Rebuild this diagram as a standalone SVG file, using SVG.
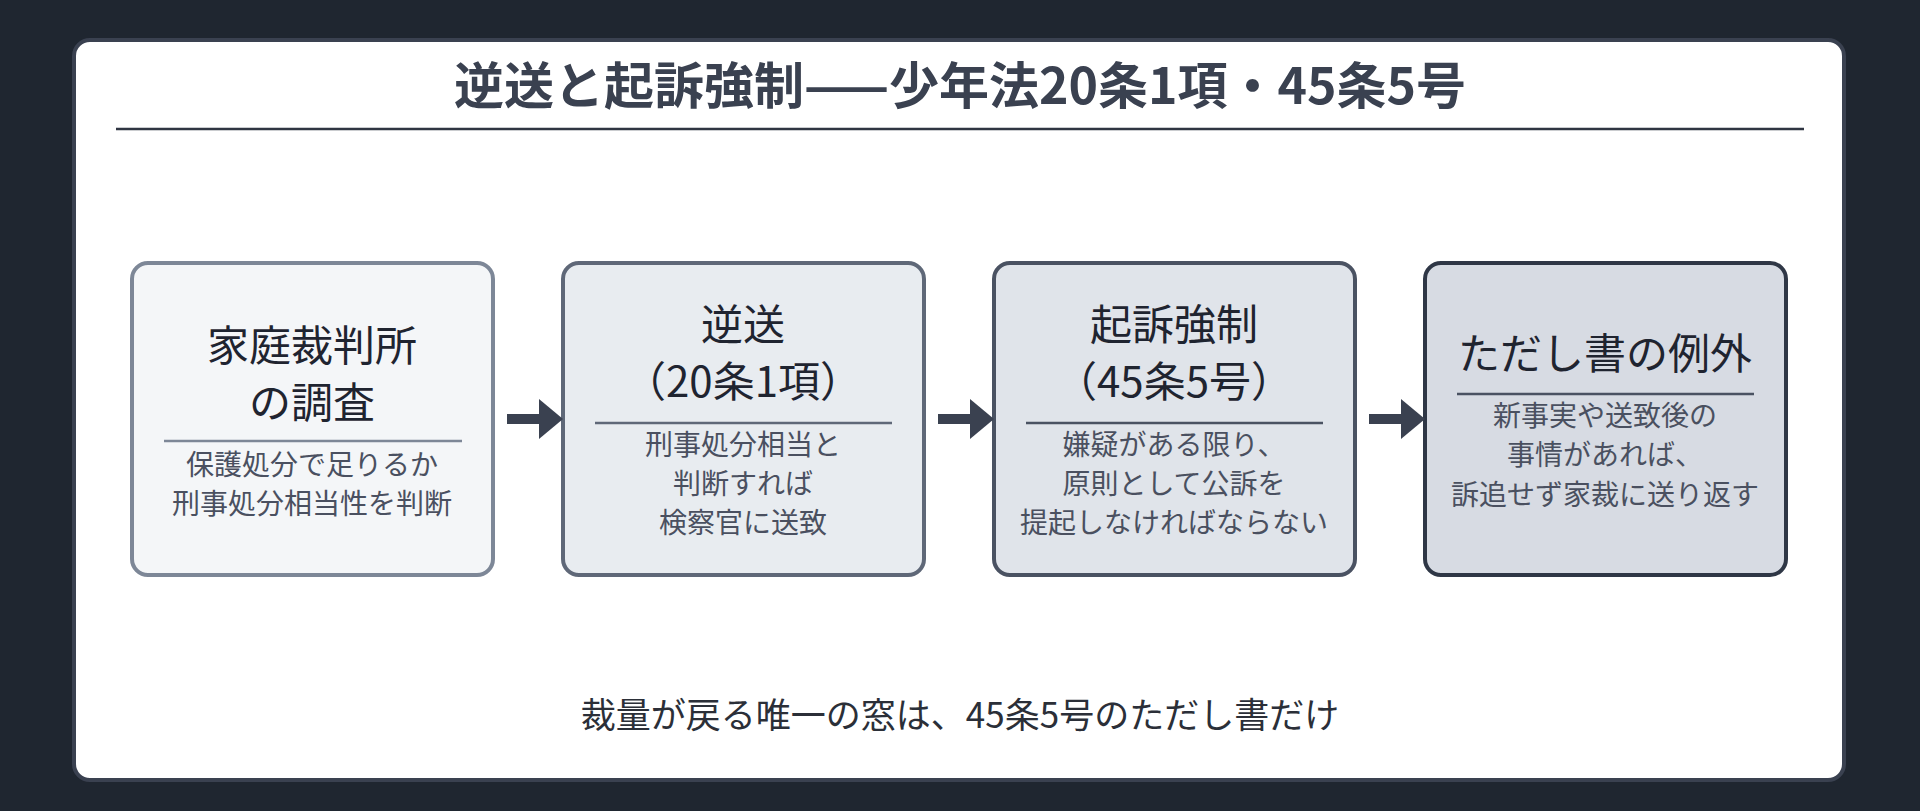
<svg xmlns="http://www.w3.org/2000/svg" width="1920" height="811" viewBox="0 0 1920 811">
<style>
text{font-family:"Noto Sans CJK JP","Noto Sans",sans-serif;text-anchor:middle}
.t{font-size:42px;fill:#1f2430}
.s{font-size:28px;fill:#4a5060}
.d{stroke-width:2.5}
</style>
<defs>
<marker id="ah" markerWidth="2.4" markerHeight="4" refX="0" refY="2" orient="auto" markerUnits="strokeWidth"><path d="M0,0L2.4,2L0,4z" fill="#3a4150"/></marker>
</defs>
<rect width="1920" height="811" fill="#1f2630"/>
<rect x="74" y="40" width="1770" height="740" rx="16" fill="#fff" stroke="#3a4150" stroke-width="4"/>
<text x="960" y="104" style="font-size:50px;font-weight:700;fill:#3a4150">逆送と起訴強制——少年法20条1項・45条5号</text>
<line x1="116" y1="129" x2="1804" y2="129" stroke="#2f3542" stroke-width="2.5"/>
<g id="n1">
<rect x="132" y="263" width="361" height="312" rx="16" fill="#f4f6f8" stroke="#7d8797" stroke-width="4"/>
<text class="t" x="312" y="361">家庭裁判所</text>
<text class="t" x="312" y="418">の調査</text>
<line class="d" x1="164" y1="441" x2="462" y2="441" stroke="#7d8797"/>
<text class="s" x="312" y="475">保護処分で足りるか</text>
<text class="s" x="312" y="514">刑事処分相当性を判断</text>
</g>
<g id="n2">
<rect x="563" y="263" width="361" height="312" rx="16" fill="#e8ecf0" stroke="#5f6878" stroke-width="4"/>
<text class="t" x="743" y="340">逆送</text>
<text class="t" x="743" y="397">（20条1項）</text>
<line class="d" x1="595" y1="423" x2="892" y2="423" stroke="#5f6878"/>
<text class="s" x="743" y="455">刑事処分相当と</text>
<text class="s" x="743" y="494">判断すれば</text>
<text class="s" x="743" y="533">検察官に送致</text>
</g>
<g id="n3">
<rect x="994" y="263" width="361" height="312" rx="16" fill="#e0e4ea" stroke="#4a5262" stroke-width="4"/>
<text class="t" x="1174" y="340">起訴強制</text>
<text class="t" x="1174" y="397">（45条5号）</text>
<line class="d" x1="1026" y1="423" x2="1323" y2="423" stroke="#4a5262"/>
<text class="s" x="1174" y="455">嫌疑がある限り、</text>
<text class="s" x="1174" y="494">原則として公訴を</text>
<text class="s" x="1174" y="533">提起しなければならない</text>
</g>
<g id="n4">
<rect x="1425" y="263" width="361" height="312" rx="16" fill="#d7dbe3" stroke="#2f3746" stroke-width="4"/>
<text class="t" x="1605" y="369">ただし書の例外</text>
<line class="d" x1="1457" y1="394" x2="1754" y2="394" stroke="#4a5262"/>
<text class="s" x="1605" y="426">新事実や送致後の</text>
<text class="s" x="1605" y="465">事情があれば、</text>
<text class="s" x="1605" y="505">訴追せず家裁に送り返す</text>
</g>
<g id="connectors" stroke="#3a4150" stroke-width="10" marker-end="url(#ah)">
<line x1="507" y1="419" x2="539" y2="419"/>
<line x1="938" y1="419" x2="970" y2="419"/>
<line x1="1369" y1="419" x2="1401" y2="419"/>
</g>
<text x="960" y="728" style="font-size:35px;fill:#2b2f38">裁量が戻る唯一の窓は、45条5号のただし書だけ</text>
</svg>
